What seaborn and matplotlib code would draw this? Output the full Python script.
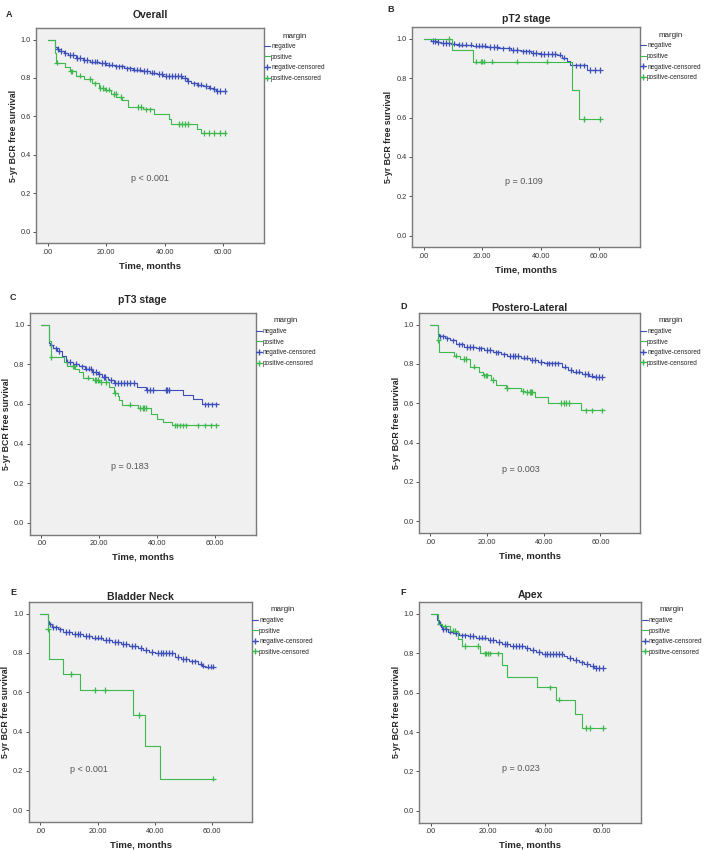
"""
Kaplan-Meier style BCR-free survival panels by surgical margin
"""

import matplotlib
matplotlib.use("Agg")
import matplotlib.pyplot as plt
from matplotlib.lines import Line2D
import numpy as np
import pandas as pd
import seaborn as sns

# ---- data ----
# step times (months) and survival after each step
neg_t_A = [0, 2.4, 3, 4, 5.5, 7, 9.5, 12, 14.5, 17.5, 20, 23, 26, 29, 32, 35, 37.5, 39.5, 46, 47.5, 49, 51, 53, 55, 56.5, 57.5, 60.5]
neg_s_A = [1.0, 0.96, 0.95, 0.94, 0.93, 0.92, 0.905, 0.895, 0.885, 0.878, 0.87, 0.86, 0.85, 0.843, 0.835, 0.828, 0.82, 0.81, 0.80, 0.785, 0.772, 0.765, 0.758, 0.75, 0.742, 0.733, 0.733]
pos_t_A = [0, 2.4, 2.8, 6, 7.5, 9.5, 12.5, 15, 17.5, 19.5, 21.5, 23.5, 25.5, 27.3, 32.5, 36.5, 41.5, 42.2, 51, 52.5, 60.5]
pos_s_A = [1.0, 0.93, 0.88, 0.855, 0.834, 0.812, 0.794, 0.772, 0.748, 0.739, 0.717, 0.70, 0.686, 0.648, 0.636, 0.613, 0.587, 0.561, 0.535, 0.513, 0.513]
neg_cens_A = [3.5, 4.5, 6, 7.5, 8.5, 10, 11, 12.5, 13.5, 15, 16, 17, 18.5, 19.5, 21, 22, 23.5, 24.5, 25.5, 27, 28, 29.5, 30.5, 31.5, 33, 34, 35.5, 36.5, 38, 39, 40.5, 41.5, 42.5, 43.5, 44.5, 45.5, 47, 48, 50, 51.5, 52.5, 54, 55.5, 57, 58, 59, 60.5]
pos_cens_A = [3.2, 7.8, 8.2, 11, 14.5, 16, 18, 19, 20, 21, 22.8, 23.2, 25, 31, 32, 33.5, 35, 45, 46, 47, 48, 53.5, 55, 57, 59, 60.5]

neg_t_B = [0, 2.5, 4.3, 6, 9.4, 11.7, 16.8, 21.3, 25.3, 29.8, 33.2, 36.6, 40, 45.6, 47.3, 49, 50.2, 55.8, 60.4]
neg_s_B = [1.0, 0.99, 0.985, 0.98, 0.976, 0.971, 0.966, 0.96, 0.952, 0.945, 0.937, 0.93, 0.925, 0.92, 0.905, 0.89, 0.866, 0.842, 0.842]
pos_t_B = [0, 9.7, 16.8, 50.7, 53, 60.4]
pos_s_B = [1.0, 0.945, 0.885, 0.74, 0.594, 0.594]
neg_cens_B = [3, 4, 5, 6.5, 7.5, 8.5, 10.5, 12, 13, 14.5, 16, 18, 19, 20, 21, 22.5, 24, 25, 27, 29, 30.5, 32, 34, 35, 36, 37.5, 38.5, 40, 41, 42.5, 44, 45, 46.5, 48, 52, 53.5, 55, 57, 58.5, 60.4]
pos_cens_B = [8.5, 18, 19.5, 20, 20.5, 23.5, 32, 42, 55, 60.4]

neg_t_C = [0, 2.5, 3, 4, 5.5, 7, 8.5, 11, 13, 15, 17.5, 19.5, 21, 23, 23.5, 25, 33, 36, 49, 52.5, 55.5, 60.5]
neg_s_C = [1.0, 0.91, 0.895, 0.88, 0.866, 0.84, 0.812, 0.803, 0.79, 0.778, 0.761, 0.75, 0.736, 0.728, 0.72, 0.706, 0.686, 0.67, 0.647, 0.623, 0.598, 0.598]
pos_t_C = [0, 2.5, 3.2, 8, 9, 11.5, 13, 14.5, 18, 20, 23.5, 25, 26.5, 27, 28, 33.5, 38, 40, 42, 45, 60.5]
pos_s_C = [1.0, 0.92, 0.837, 0.812, 0.79, 0.778, 0.761, 0.733, 0.72, 0.711, 0.686, 0.655, 0.64, 0.62, 0.597, 0.58, 0.551, 0.526, 0.509, 0.492, 0.492]
neg_cens_C = [3.5, 5, 6, 9, 10, 12, 14, 15.5, 16.5, 17, 18, 19, 20, 21.5, 22, 24, 25.5, 26.5, 27.5, 28.5, 29.5, 30.5, 32, 36.5, 37.5, 38.5, 43, 43.5, 44, 56.5, 57.5, 59, 60.5]
pos_cens_C = [3.5, 11, 11.3, 16, 18.5, 19, 19.5, 20.5, 22.5, 25.5, 30.5, 34, 35, 35.5, 36, 46, 47, 48, 49, 50, 54, 56.5, 58.5, 60.5]

neg_t_D = [0, 2.5, 3, 5, 7, 9, 12, 16, 19, 22, 25, 27, 32, 35, 38, 40, 46.5, 48.5, 50.5, 53.5, 56, 57.5, 60.5]
neg_s_D = [1.0, 0.95, 0.94, 0.93, 0.92, 0.899, 0.887, 0.879, 0.87, 0.859, 0.848, 0.84, 0.832, 0.82, 0.811, 0.803, 0.786, 0.77, 0.761, 0.75, 0.741, 0.732, 0.732]
pos_t_D = [0, 2.5, 3, 8.2, 10.4, 14.1, 17, 18.5, 21.5, 23, 26.5, 32, 33.5, 37, 41.5, 53, 60.5]
pos_s_D = [1.0, 0.92, 0.862, 0.842, 0.825, 0.786, 0.76, 0.742, 0.719, 0.694, 0.677, 0.663, 0.657, 0.63, 0.601, 0.564, 0.564]
neg_cens_D = [3.5, 4.5, 6, 8, 10, 11, 13, 14, 15, 17, 18, 20, 21, 23, 24, 26, 28, 29, 30, 31, 33, 34, 36, 37, 39, 41, 42, 43, 44, 45, 47.5, 49.5, 51.5, 52.5, 54.5, 55.5, 57, 58.5, 59.5, 60.5]
pos_cens_D = [2.8, 9, 12, 12.5, 15.5, 19, 19.5, 20, 22, 27, 32.5, 34, 35, 35.5, 36, 46, 47, 48, 49, 55, 57, 60.5]

neg_t_E = [0, 2.5, 3, 4, 6, 8, 11, 15, 18, 22, 25, 28, 31, 34, 36, 38, 40, 47, 49, 52, 55, 56.5, 57.5, 60.5]
neg_s_E = [1.0, 0.963, 0.945, 0.93, 0.92, 0.907, 0.895, 0.887, 0.878, 0.865, 0.856, 0.845, 0.836, 0.824, 0.814, 0.806, 0.8, 0.78, 0.769, 0.757, 0.745, 0.735, 0.73, 0.73]
pos_t_E = [0, 2.5, 3, 7.9, 13.7, 32.4, 36.6, 41.8, 60.5]
pos_s_E = [1.0, 0.923, 0.769, 0.693, 0.611, 0.485, 0.324, 0.16, 0.16]
neg_cens_E = [3.5, 4.5, 5.5, 7, 9, 10, 12, 13, 14, 16, 17, 19, 20, 21, 23, 24, 26, 27, 29, 30, 32, 33, 35, 37, 39, 41, 42, 43, 44, 45, 46, 48, 50, 51, 53, 54, 56, 57, 58.5, 59.5, 60.5]
pos_cens_E = [2.7, 10.8, 18.9, 22.6, 34.5, 60.5]

neg_t_F = [0, 2.3, 3, 3.5, 4, 6, 8, 10, 13, 16, 20, 23, 25, 28, 33, 35, 37, 39, 47, 48, 50, 52, 54, 56, 57.5, 60.5]
neg_s_F = [1.0, 0.97, 0.949, 0.933, 0.921, 0.909, 0.9, 0.89, 0.887, 0.879, 0.867, 0.857, 0.845, 0.837, 0.825, 0.815, 0.806, 0.795, 0.783, 0.774, 0.764, 0.753, 0.744, 0.736, 0.724, 0.724]
pos_t_F = [0, 2.5, 4, 7, 9.5, 11, 17.4, 25.2, 26.7, 37.2, 44, 50.8, 53.1, 60.5]
pos_s_F = [1.0, 0.95, 0.935, 0.912, 0.87, 0.837, 0.798, 0.741, 0.68, 0.626, 0.564, 0.49, 0.42, 0.42]
neg_cens_F = [3.2, 4.5, 5.5, 7, 9, 11, 12, 14, 15, 17, 18, 19, 21, 22, 24, 26, 27, 29, 30, 31, 32, 34, 36, 38, 40, 41, 42, 43, 44, 45, 46, 49, 51, 53, 55, 57, 58, 59, 60.5]
pos_cens_F = [5, 8, 8.5, 12, 16.5, 19, 19.5, 20, 21, 23.5, 42, 45, 54.5, 56, 60.5]

panel_letters = ["A", "B", "C", "D", "E", "F"]
panel_titles = ["Overall", "pT2 stage", "pT3 stage", "Postero-Lateral", "Bladder Neck", "Apex"]
p_labels = ["p < 0.001", "p = 0.109", "p = 0.183", "p = 0.003", "p < 0.001", "p = 0.023"]
p_x = [35, 34.3, 30.7, 31.8, 17.1, 31.7]
p_y = [0.276, 0.277, 0.282, 0.264, 0.206, 0.214]
legend_labels = ["negative", "positive", "negative-censored", "positive-censored"]
x_ticks = [0, 20, 40, 60]
x_tick_labels = [".00", "20.00", "40.00", "60.00"]
y_ticks = [0.0, 0.2, 0.4, 0.6, 0.8, 1.0]

BLUE = "#3d4fb8"
GREEN = "#3cb84c"

sns.set_style("white")
plt.rcParams["font.family"] = ["Liberation Sans", "DejaVu Sans"]

# axes rectangles in figure fractions (left, bottom, width, height)
rects = [
    (0.051, 0.714, 0.322, 0.253),
    (0.582, 0.709, 0.322, 0.259),
    (0.042, 0.371, 0.319, 0.261),
    (0.592, 0.373, 0.312, 0.259),
    (0.041, 0.033, 0.315, 0.259),
    (0.592, 0.032, 0.314, 0.260),
]
letter_pos = [(0.008, 0.980), (0.547, 0.986), (0.014, 0.647), (0.566, 0.636), (0.014, 0.300), (0.566, 0.300)]
title_pad = [7, 4, 7, 1.5, 1.5, 2.5]

fig = plt.figure(figsize=(7.08, 8.5), dpi=100)


def step_value(t, s, c):
    i = np.searchsorted(t, c, side="right") - 1
    return s[i]


def draw_panel(ax, neg_t, neg_s, pos_t, pos_s, neg_c, pos_c):
    curves = pd.DataFrame({
        "time": neg_t + pos_t,
        "surv": neg_s + pos_s,
        "margin": ["negative"] * len(neg_t) + ["positive"] * len(pos_t),
    })
    for name, color in [("negative", BLUE), ("positive", GREEN)]:
        sub = curves[curves["margin"] == name]
        sns.lineplot(data=sub, x="time", y="surv", ax=ax, color=color, lw=0.8,
                     drawstyle="steps-post", estimator=None, sort=False)

    nt, ns = np.array(neg_t), np.array(neg_s)
    pt, ps = np.array(pos_t), np.array(pos_s)
    cens = pd.DataFrame({
        "time": neg_c + pos_c,
        "surv": [step_value(nt, ns, c) for c in neg_c] + [step_value(pt, ps, c) for c in pos_c],
        "margin": ["negative"] * len(neg_c) + ["positive"] * len(pos_c),
    })
    sns.scatterplot(data=cens, x="time", y="surv", hue="margin", ax=ax,
                    palette={"negative": BLUE, "positive": GREEN},
                    marker="+", s=16, linewidth=0.9, legend=False)


all_data = [
    (neg_t_A, neg_s_A, pos_t_A, pos_s_A, neg_cens_A, pos_cens_A),
    (neg_t_B, neg_s_B, pos_t_B, pos_s_B, neg_cens_B, pos_cens_B),
    (neg_t_C, neg_s_C, pos_t_C, pos_s_C, neg_cens_C, pos_cens_C),
    (neg_t_D, neg_s_D, pos_t_D, pos_s_D, neg_cens_D, pos_cens_D),
    (neg_t_E, neg_s_E, pos_t_E, pos_s_E, neg_cens_E, pos_cens_E),
    (neg_t_F, neg_s_F, pos_t_F, pos_s_F, neg_cens_F, pos_cens_F),
]

for i, rect in enumerate(rects):
    ax = fig.add_axes(rect)
    ax.set_facecolor("#f0f0f0")
    draw_panel(ax, *all_data[i])

    ax.set_xlim(-4, 74)
    ax.set_ylim(-0.06, 1.06)
    ax.set_xticks(x_ticks)
    ax.set_xticklabels(x_tick_labels)
    ax.set_yticks(y_ticks)
    ax.set_yticklabels([f"{v:.1f}" for v in y_ticks])
    ax.tick_params(axis="both", labelsize=5.3, length=2.5, width=0.6,
                   color="#333333", labelcolor="#333333", pad=1.5, bottom=True, left=True)
    for sp in ax.spines.values():
        sp.set_color("#7a7a7a")
        sp.set_linewidth(1.0)

    ax.set_title(panel_titles[i], fontsize=7.5, fontweight="bold", pad=title_pad[i])
    ax.set_xlabel("Time, months", fontsize=6.8, fontweight="bold", labelpad=4)
    ax.set_ylabel("5-yr BCR free survival", fontsize=6.3, fontweight="bold", labelpad=2)
    ax.text(p_x[i], p_y[i], p_labels[i], fontsize=6.5, color="#555555", ha="center", va="center")

    handles = [
        Line2D([], [], color=BLUE, lw=0.8),
        Line2D([], [], color=GREEN, lw=0.8),
        Line2D([], [], color=BLUE, lw=0.8, marker="+", markersize=4.5),
        Line2D([], [], color=GREEN, lw=0.8, marker="+", markersize=4.5),
    ]
    ax.legend(handles, legend_labels, loc="upper left", bbox_to_anchor=(0.995, 0.985),
              frameon=False, fontsize=4.7, title="margin", title_fontsize=5.8,
              handlelength=0.9, handletextpad=0.15, labelspacing=0.55, borderaxespad=0.0,
              borderpad=0.2)

    fig.text(letter_pos[i][0], letter_pos[i][1], panel_letters[i], fontsize=6.5, fontweight="bold")

fig.savefig("out.png", dpi=100)
